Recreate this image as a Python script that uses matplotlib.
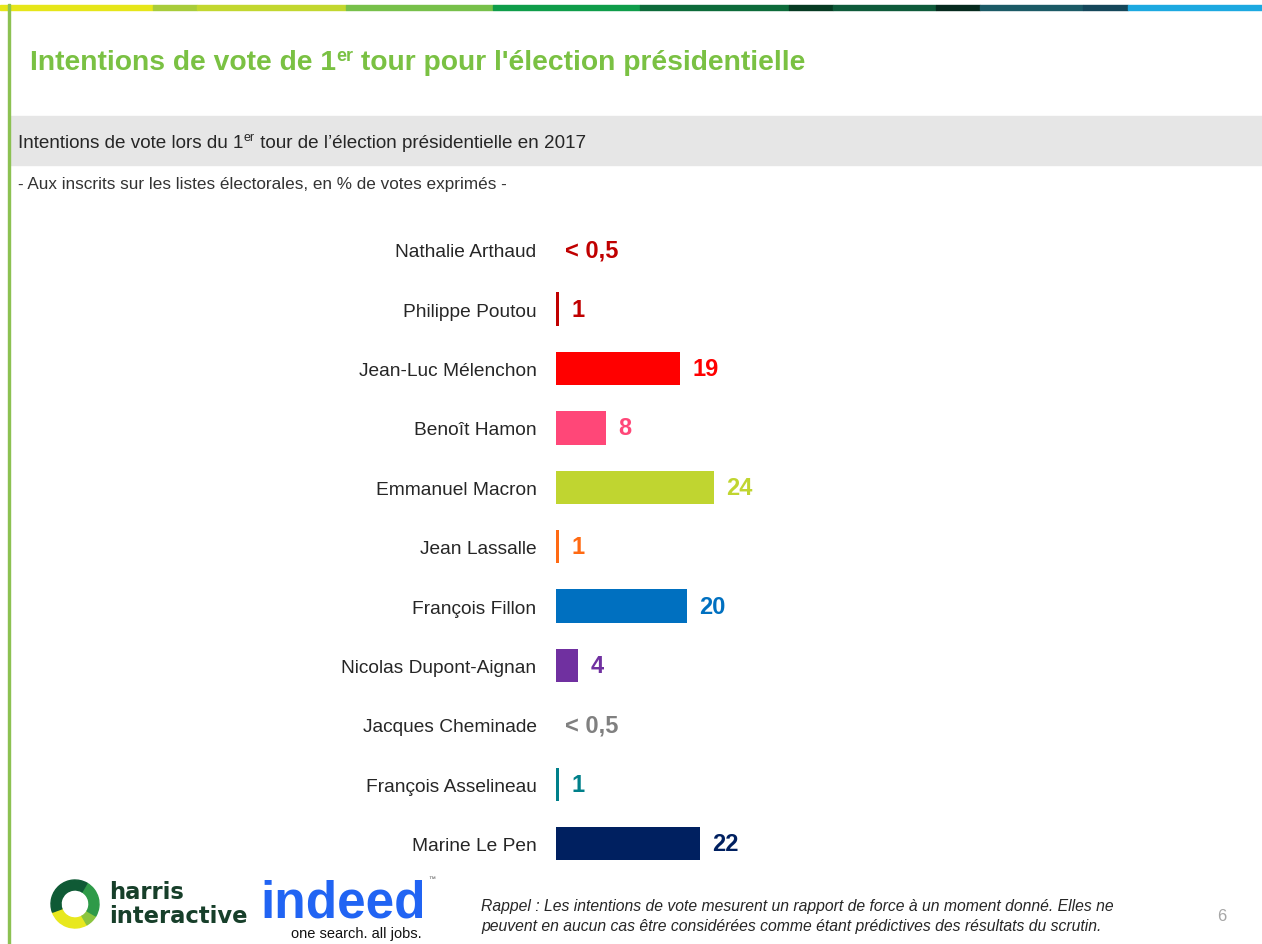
import matplotlib
matplotlib.use("Agg")
import matplotlib.pyplot as plt
from matplotlib.patches import Rectangle, Wedge

plt.rcParams['font.family'] = ['Liberation Sans', 'DejaVu Sans']

# ---------------- data ----------------
candidates = ["Nathalie Arthaud", "Philippe Poutou", "Jean-Luc Mélenchon", "Benoît Hamon",
              "Emmanuel Macron", "Jean Lassalle", "François Fillon", "Nicolas Dupont-Aignan",
              "Jacques Cheminade", "François Asselineau", "Marine Le Pen"]
bar_values = [0, 0.45, 18.8, 7.6, 23.9, 0.45, 19.8, 3.4, 0, 0.45, 21.8]
value_labels = ["< 0,5", "1", "19", "8", "24", "1", "20", "4", "< 0,5", "1", "22"]
colors = ["#C00000", "#C00000", "#FF0000", "#FF4778", "#C0D530", "#FF6A13", "#0070C0",
          "#7030A0", "#808080", "#00808A", "#002060"]

W, H = 1262, 945
fig = plt.figure(figsize=(W / 100, H / 100), dpi=100)
fig.patch.set_facecolor("white")

def fx(px):
    return px / W

def fy(py):
    return 1 - py / H

# ---------------- decorative top stripe ----------------
stripe = [(0, 153, "#E6E619"), (153, 197, "#A8CC3A"), (197, 346, "#C2D72F"),
          (346, 493, "#77C04A"), (493, 640, "#0F9D4A"), (640, 789, "#0D6B3A"),
          (789, 833, "#063A22"), (833, 936, "#0E5A3A"), (936, 980, "#062A1E"),
          (980, 1083, "#1B5A66"), (1083, 1128, "#15475A"), (1128, 1262, "#1CA9E1")]
for x0, x1, c in stripe:
    fig.patches.append(Rectangle((fx(x0), fy(11)), fx(x1 - x0), 5 / H,
                                 transform=fig.transFigure, color=c, zorder=1))
# left border line
fig.patches.append(Rectangle((fx(8), 0), 1.5 / W, fy(5), transform=fig.transFigure,
                             color="#8CC152", zorder=1))
# grey band
fig.patches.append(Rectangle((fx(9.5), fy(166)), fx(W - 9.5), 49 / H,
                             transform=fig.transFigure, color="#E6E6E6", zorder=0))

renderer = fig.canvas.get_renderer()

def draw_segments(x_px, y_px, segments, color, weight="normal"):
    x = x_px
    for txt, size, dy in segments:
        t = fig.text(fx(x), fy(y_px - dy), txt, fontsize=size, color=color,
                     fontweight=weight, va="baseline", ha="left")
        bb = t.get_window_extent(renderer=renderer)
        x += bb.width

# title
draw_segments(30, 70, [("Intentions de vote de 1", 20.3, 0), ("er", 13, 9),
                       (" tour pour l'élection présidentielle", 20.3, 0)],
              "#7AC143", weight="bold")
# band text
draw_segments(18, 148, [("Intentions de vote lors du 1", 13.6, 0), ("er", 9, 7),
                        (" tour de l\u2019élection présidentielle en 2017", 13.6, 0)],
              "#262626")
fig.text(fx(18), fy(185), "- Aux inscrits sur les listes électorales, en % de votes exprimés -",
         fontsize=12.3, color="#333333", va="center", ha="left")

# ---------------- bar chart ----------------
scale = 6.6  # px per unit
ax_left, ax_w = 556, 600
ax_top, row_h = 221, 59.4
n = len(candidates)
ax = fig.add_axes([fx(ax_left), fy(ax_top + row_h * n), fx(ax_w), row_h * n / H])
ax.set_xlim(0, ax_w / scale)
ax.set_ylim(n - 0.5, -0.5)
ypos = list(range(n))
ax.barh(ypos, bar_values, height=0.56, color=colors)
ax.set_yticks(ypos)
ax.set_yticklabels(candidates, fontsize=13.8, color="#262626")
ax.tick_params(axis="y", length=0, pad=14)
ax.set_xticks([])
for s in ax.spines.values():
    s.set_visible(False)
ax.patch.set_alpha(0)
for i, (v, lab, c) in enumerate(zip(bar_values, value_labels, colors)):
    off = 9 if v > 0 else 6.5
    ax.annotate(lab, (v, i), xytext=(off, 0), textcoords="offset points",
                ha="left", va="center", fontsize=17, fontweight="bold", color=c)

# ---------------- footer ----------------
# harris interactive logo (ring drawn in inches so it stays round)
cx, cy, r = 75, 905, 24
ring = [(200, 300, "#E8E81E"), (300, 330, "#8BC53F"), (330, 60, "#2E9A48"),
        (60, 200, "#0F5A35")]
for th1, th2, c in ring:
    fig.patches.append(Wedge((cx / 100, (H - cy) / 100), r / 100, th1, th2, width=0.10,
                             transform=fig.dpi_scale_trans, color=c))
fig.text(fx(109), fy(893), "harris", fontsize=16.3, fontweight="bold", color="#173F2A",
         va="center", ha="left", family="DejaVu Sans")
fig.text(fx(109), fy(917), "interactive", fontsize=16.3, fontweight="bold", color="#173F2A",
         va="center", ha="left", family="DejaVu Sans")
# indeed logo
fig.text(fx(260), fy(918), "indeed", fontsize=37, fontweight="bold", color="#2164F3",
         va="baseline", ha="left")
fig.text(fx(428), fy(880), "\u2122", fontsize=5, color="#555555", va="center", ha="left")
fig.text(fx(291), fy(934), "one search. all jobs.", fontsize=10.5, color="#111111",
         va="center", ha="left")

fig.text(fx(481), fy(907), "Rappel : Les intentions de vote mesurent un rapport de force à un moment donné. Elles ne",
         fontsize=11.3, style="italic", color="#262626", va="center", ha="left")
fig.text(fx(481), fy(927), "peuvent en aucun cas être considérées comme étant prédictives des résultats du scrutin.",
         fontsize=11.3, style="italic", color="#262626", va="center", ha="left")
fig.text(fx(1222), fy(917), "6", fontsize=12, color="#A6A6A6", va="center", ha="center")

fig.savefig("out.png", dpi=100)
